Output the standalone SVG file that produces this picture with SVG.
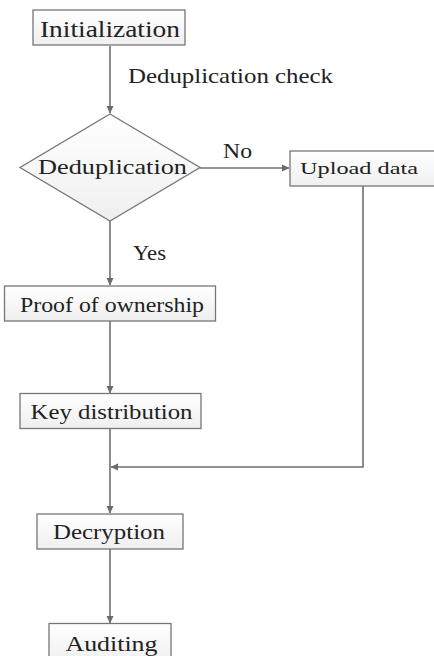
<svg xmlns="http://www.w3.org/2000/svg" width="434" height="656" viewBox="0 0 434 656">
<defs>
<linearGradient id="g" x1="0" y1="0" x2="0" y2="1">
<stop offset="0" stop-color="#ffffff"/>
<stop offset="1" stop-color="#efefef"/>
</linearGradient>
<marker id="ah" markerWidth="8" markerHeight="8" refX="7" refY="4" orient="auto" markerUnits="userSpaceOnUse">
<path d="M0,0.5 L7.5,4 L0,7.5 Z" fill="#6b6b6b"/>
</marker>
</defs>
<style>
.box{fill:url(#g);stroke:#767676;stroke-width:1.3}
.t{font-family:"Liberation Serif","Times New Roman",serif;fill:#222;}
.c{fill:none;stroke:#707070;stroke-width:1.6}
</style>
<rect width="434" height="656" fill="#ffffff"/>
<g id="connectors">
<line class="c" x1="110" y1="46" x2="110" y2="113" marker-end="url(#ah)"/>
<line class="c" x1="200" y1="168" x2="289" y2="168" marker-end="url(#ah)"/>
<line class="c" x1="110" y1="221" x2="110" y2="285" marker-end="url(#ah)"/>
<line class="c" x1="110" y1="321" x2="110" y2="393" marker-end="url(#ah)"/>
<line class="c" x1="110" y1="429" x2="110" y2="513" marker-end="url(#ah)"/>
<line class="c" x1="110" y1="549" x2="110" y2="623" marker-end="url(#ah)"/>
<polyline class="c" points="363,186 363,467 111,467" marker-end="url(#ah)"/>
<text class="t" x="128" y="83" font-size="21" textLength="205" lengthAdjust="spacingAndGlyphs">Deduplication check</text>
<text class="t" x="223" y="158" font-size="21" textLength="29" lengthAdjust="spacingAndGlyphs">No</text>
<text class="t" x="133" y="260" font-size="21" textLength="33" lengthAdjust="spacingAndGlyphs">Yes</text>
</g>
<g id="initialization">
<rect class="box" x="33" y="10" width="152" height="35"/>
<text class="t" x="40" y="37" font-size="24" textLength="140" lengthAdjust="spacingAndGlyphs">Initialization</text>
</g>
<g id="deduplication">
<polygon class="box" points="110,114 200,167.5 110,221 20,167.5"/>
<text class="t" x="38" y="174" font-size="22" textLength="149" lengthAdjust="spacingAndGlyphs">Deduplication</text>
</g>
<g id="upload">
<rect class="box" x="290" y="151" width="150" height="35"/>
<text class="t" x="300" y="174" font-size="17" textLength="118" lengthAdjust="spacingAndGlyphs">Upload data</text>
</g>
<g id="proof">
<rect class="box" x="4.5" y="286" width="211" height="35"/>
<text class="t" x="20" y="312" font-size="22" textLength="184" lengthAdjust="spacingAndGlyphs">Proof of ownership</text>
</g>
<g id="keydist">
<rect class="box" x="20" y="393.5" width="181" height="35"/>
<text class="t" x="30.5" y="419" font-size="22" textLength="162" lengthAdjust="spacingAndGlyphs">Key distribution</text>
</g>
<g id="decryption">
<rect class="box" x="37" y="514" width="146" height="35"/>
<text class="t" x="53" y="539" font-size="22" textLength="112" lengthAdjust="spacingAndGlyphs">Decryption</text>
</g>
<g id="auditing">
<rect class="box" x="49" y="623.5" width="122" height="40"/>
<text class="t" x="65.5" y="651" font-size="22" textLength="92" lengthAdjust="spacingAndGlyphs">Auditing</text>
</g>
</svg>
